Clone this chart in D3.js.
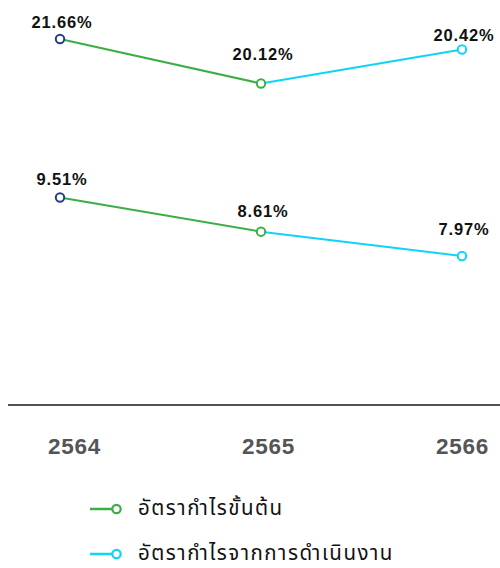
<!DOCTYPE html>
<html>
<head>
<meta charset="utf-8">
<script src="https://cdn.jsdelivr.net/npm/d3@7"></script>
<style>
  html, body { margin: 0; padding: 0; background: #fff; }
  svg { display: block; }
</style>
</head>
<body>
<svg id="chart" width="500" height="568"></svg>
<script>
// ---- data ----
const years = ["2564", "2565", "2566"];
const grossMargin = [21.66, 20.12, 20.42];      // อัตรากำไรขั้นต้น
const operatingMargin = [9.51, 8.61, 7.97];     // อัตรากำไรจากการดำเนินงาน
const legendLabels = ["อัตรากำไรขั้นต้น", "อัตรากำไรจากการดำเนินงาน"];

// ---- styles ----
const GREEN = "#3cae45";
const CYAN = "#0fd4f8";
const NAVY = "#233e8c";
const segColors = [GREEN, CYAN];
const pointColors = [NAVY, GREEN, CYAN];
const labelLift = { gross: [11.5, 24, 8.5], op: [13, 15, 21] };

const svg = d3.select("#chart");

const x = d3.scalePoint().domain(years).range([60, 462]);
const xAxisScale = d3.scalePoint().domain(years).range([74, 462]);

// the chart is not drawn to a common scale; each series has its own
const yGross = d3.scaleLinear()
  .domain([20.12, 20.42, 21.66])
  .range([83.5, 49.5, 39]);
const yOp = d3.scaleLinear()
  .domain([7.97, 9.51])
  .range([256, 197.5]);

function drawSeries(values, y, lifts) {
  const pts = values.map((v, i) => ({ year: years[i], v, i }));
  const line = d3.line().x(d => x(d.year)).y(d => y(d.v));
  const g = svg.append("g");
  for (let i = 0; i < pts.length - 1; i++) {
    g.append("path")
      .attr("d", line([pts[i], pts[i + 1]]))
      .attr("fill", "none")
      .attr("stroke", segColors[i])
      .attr("stroke-width", 2);
  }
  g.selectAll("circle").data(pts).join("circle")
    .attr("cx", d => x(d.year))
    .attr("cy", d => y(d.v))
    .attr("r", 4.2)
    .attr("fill", "#fff")
    .attr("stroke", d => pointColors[d.i])
    .attr("stroke-width", 2);
  g.selectAll("text").data(pts).join("text")
    .attr("x", d => x(d.year) + 2)
    .attr("y", d => y(d.v) - lifts[d.i])
    .attr("text-anchor", "middle")
    .attr("font-family", "'Liberation Sans', Arial, sans-serif")
    .attr("font-weight", "bold")
    .attr("font-size", 16.5)
    .attr("letter-spacing", 0.8)
    .attr("fill", "#111")
    .text(d => d.v.toFixed(2) + "%");
}

drawSeries(grossMargin, yGross, labelLift.gross);
drawSeries(operatingMargin, yOp, labelLift.op);

// x axis
const axis = d3.axisBottom(xAxisScale).tickSize(0).tickPadding(0);
const axG = svg.append("g").attr("transform", "translate(0,405)").call(axis);
axG.select(".domain").remove();
axG.selectAll("text")
  .attr("dy", 0)
  .attr("y", 48.5)
  .attr("font-family", "'Liberation Sans', Arial, sans-serif")
  .attr("font-weight", "bold")
  .attr("font-size", 22.5)
  .attr("letter-spacing", 0.8)
  .attr("fill", "#555");
svg.append("line")
  .attr("x1", 8).attr("x2", 500)
  .attr("y1", 405).attr("y2", 405)
  .attr("stroke", "#1a1a1a")
  .attr("stroke-width", 1.5);

// legend
const legendColors = [GREEN, CYAN];
const lg = svg.append("g").attr("transform", "translate(90,509)");
const items = lg.selectAll("g").data(legendLabels).join("g")
  .attr("transform", (d, i) => `translate(0,${i * 45})`);
items.append("line")
  .attr("x1", 0).attr("x2", 22).attr("y1", 0).attr("y2", 0)
  .attr("stroke", (d, i) => legendColors[i]).attr("stroke-width", 2.5);
items.append("circle")
  .attr("cx", 26.5).attr("cy", 0).attr("r", 4.2)
  .attr("fill", "#fff")
  .attr("stroke", (d, i) => legendColors[i]).attr("stroke-width", 2.2);
items.append("text")
  .attr("x", 48).attr("y", 6)
  .attr("font-family", "'Noto Sans Thai', 'Noto Sans', 'DejaVu Sans', sans-serif")
  .attr("font-size", 20.5)
  .attr("letter-spacing", 1.5)
  .attr("fill", "#111")
  .text(d => d);
</script>
</body>
</html>
